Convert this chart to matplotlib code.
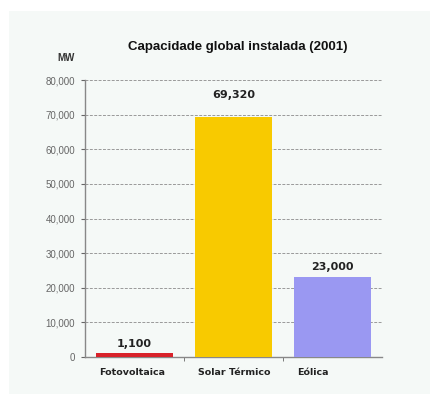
import matplotlib.pyplot as plt
from matplotlib.ticker import FuncFormatter, FixedLocator

categories = ["Fotovoltaica", "Solar Térmico", "Eólica"]
capacity_mw = [1100, 69320, 23000]
bar_colors = ["#d8222a", "#f8ca00", "#9a98f2"]
value_labels = ["1,100", "69,320", "23,000"]
label_offsets = [4.7, 13.5, 5.3]  # points from bar top to label baseline

plt.rcParams['font.family'] = ['Liberation Sans', 'DejaVu Sans']

fig = plt.figure(figsize=(4.3, 3.94), dpi=100)
fig.patch.set_facecolor("white")
# light panel behind the chart
panel = plt.Rectangle((9 / 430, 0), 421 / 430, 1 - 11 / 394,
                      transform=fig.transFigure, facecolor="#f5f9f7",
                      edgecolor="none", zorder=-10)
fig.patches.append(panel)

ax = fig.add_axes([85 / 430, 1 - 357 / 394, 297 / 430, 277 / 394])
ax.set_facecolor("none")

x = list(range(len(categories)))
ax.bar(x, capacity_mw, width=0.77, color=bar_colors, zorder=3)
for xi, v, lab, off in zip(x, capacity_mw, value_labels, label_offsets):
    ax.annotate(lab, (xi, v), xytext=(0, off), textcoords="offset points",
                ha="center", va="baseline", fontsize=8, color="#222222",
                fontweight="bold", family="DejaVu Sans")

ax.set_xlim(-0.5, 2.5)
ax.set_ylim(0, 80000)
ax.set_yticks(range(0, 80001, 10000))
ax.yaxis.set_major_formatter(FuncFormatter(lambda v, p: f"{int(v):,}"))
ax.yaxis.grid(True, linestyle=(0, (3, 1.5)), color="#9a9a9a", linewidth=0.7, zorder=1)

# category names sit left-aligned near each bar's left edge
ax.set_xticks([xi - 0.36 for xi in x])
ax.set_xticklabels(categories, fontsize=6.8, color="#222222", fontweight="bold",
                   family="DejaVu Sans", ha="left")
ax.tick_params(axis="x", length=0, pad=8)
ax.xaxis.set_minor_locator(FixedLocator([0.5, 1.5]))
ax.tick_params(axis="x", which="minor", length=3, color="#666666")
ax.tick_params(axis="y", length=3, color="#666666", labelsize=7, labelcolor="#666666", pad=4)

for s in ["top", "right"]:
    ax.spines[s].set_visible(False)
for s in ["left", "bottom"]:
    ax.spines[s].set_color("#888888")
    ax.spines[s].set_linewidth(1.0)

fig.text(238 / 430, 1 - 47 / 394, "Capacidade global instalada (2001)",
         ha="center", va="center", fontsize=9.5, color="#111111",
         fontweight="bold")
fig.text(66 / 430, 1 - 58 / 394, "MW", ha="center", va="center",
         fontsize=7, color="#333333", fontweight="bold")

fig.savefig("out.png", dpi=100, facecolor="white")
